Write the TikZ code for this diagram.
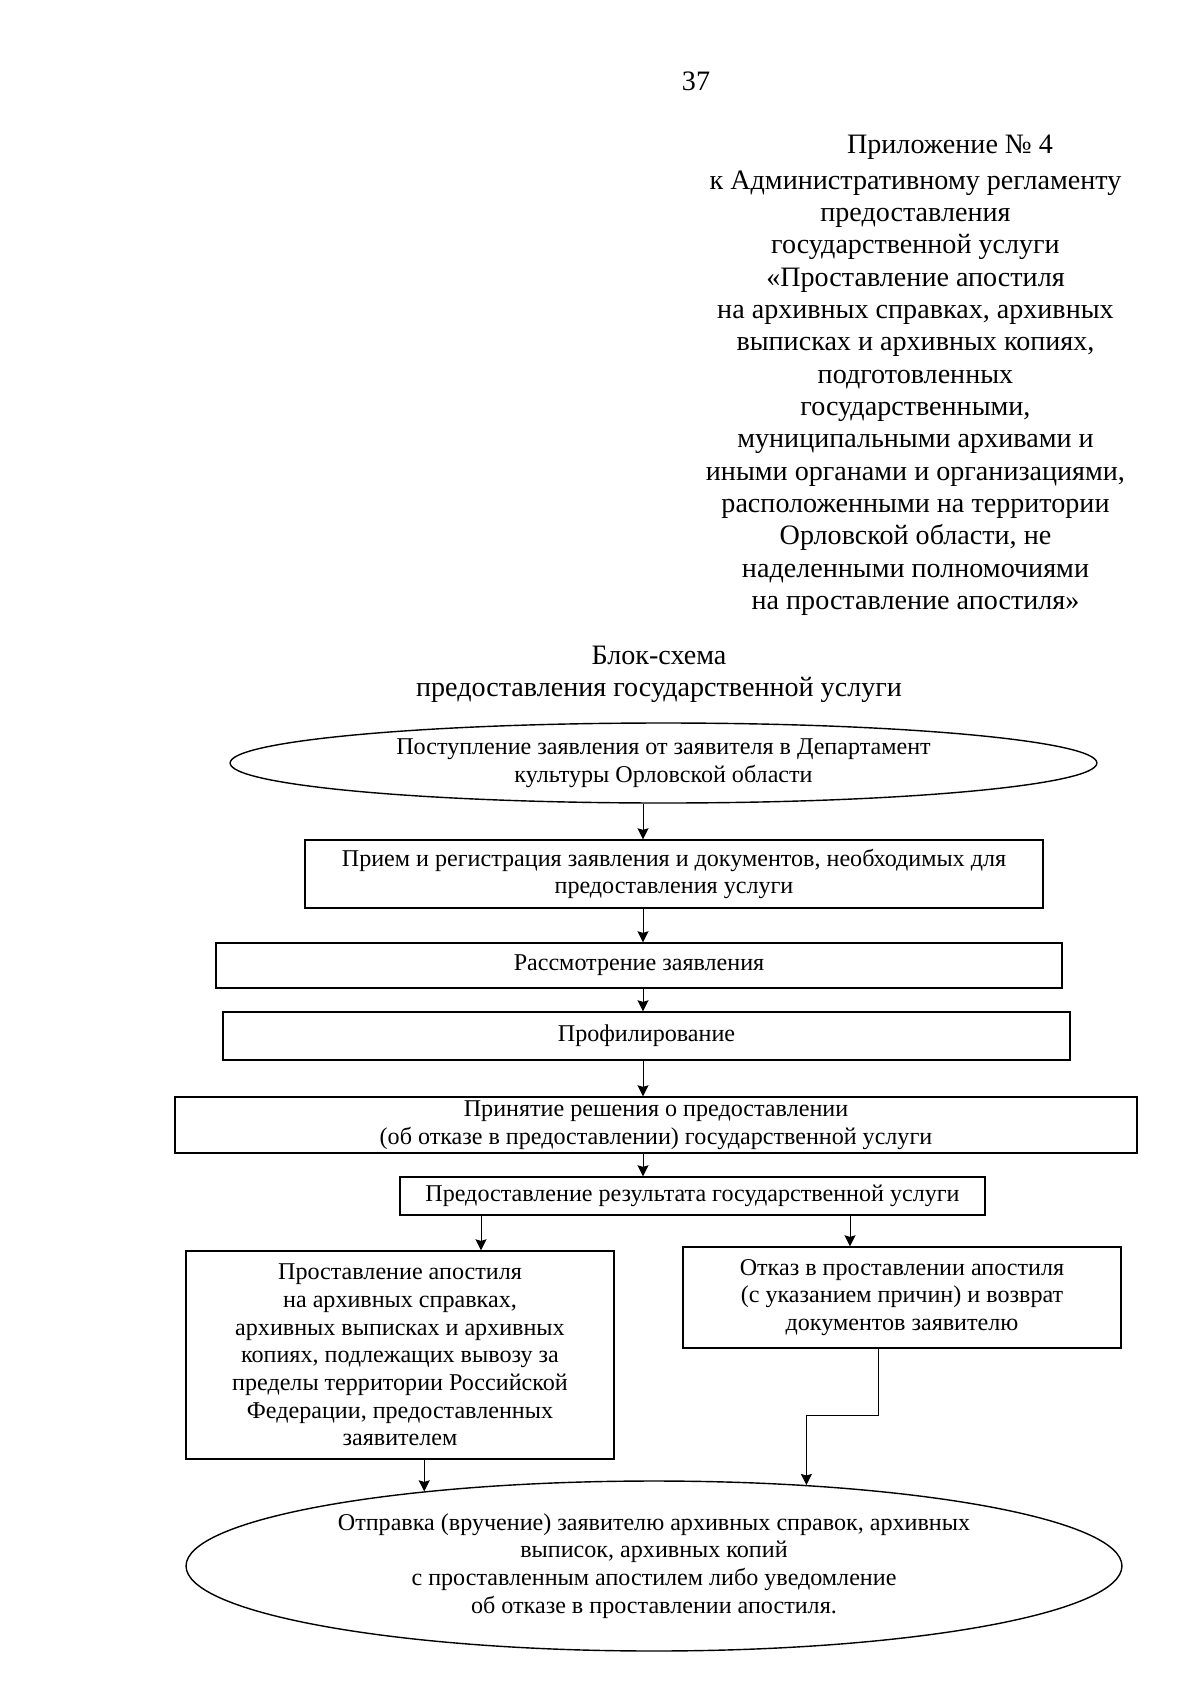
\documentclass[tikz,border=0pt]{standalone}
\usepackage{fontspec}
\setmainfont{Liberation Serif}
\usetikzlibrary{shapes.geometric, arrows.meta}

\begin{document}
\begin{tikzpicture}[x=0.0175cm, y=-0.0175cm, >={Stealth[length=5.5pt, width=5.5pt, inset=0.8pt]}, line width=0.7pt,
  every box/.style={draw, rectangle, inner sep=0pt, align=center, font=\fontsize{12}{13.8}\selectfont},
  every oval/.style={draw, ellipse, inner sep=0pt, align=center, font=\fontsize{12}{13.8}\selectfont},
  every head/.style={align=center, inner sep=0pt, font=\fontsize{14}{16.1}\selectfont},
  every link/.style={->, line width=0.5pt}]

\useasboundingbox (0,0) rectangle (1200,1697);

% Шапка страницы
\node [every head] (page-num) at (696,81) {37};
\node [every head] (appx-title) at (950,147) {Приложение № 4};
\node [every head] (appx-body) at (915.5,393) {к Административному регламенту\\
  предоставления\\
  государственной услуги\\
  «Проставление апостиля\\
  на архивных справках, архивных\\
  выписках и архивных копиях,\\
  подготовленных\\
  государственными,\\
  муниципальными архивами и\\
  иными органами и организациями,\\
  расположенными на территории\\
  Орловской области, не\\
  наделенными полномочиями\\
  на проставление апостиля»};
\node [every head] (scheme-title) at (659,674) {Блок-схема\\предоставления государственной услуги};

% Блоки схемы
\node [every oval, minimum width=15.17cm, minimum height=1.4cm] (start) at (663.5,763)
  {Поступление заявления от заявителя в Департамент\\культуры Орловской области};
\node [every box, minimum width=12.915cm, minimum height=1.19cm] (step-1) at (674,874)
  {Прием и регистрация заявления и документов, необходимых для\\предоставления услуги};
\node [every box, minimum width=14.805cm, minimum height=0.7875cm] (step-2) at (639,965.5)
  {Рассмотрение заявления};
\node [every box, minimum width=14.82cm, minimum height=0.84cm] (step-3) at (646.5,1036)
  {Профилирование};
\node [every box, minimum width=16.835cm, minimum height=0.98cm] (step-4) at (656,1125)
  {Принятие решения о предоставлении\\(об отказе в предоставлении) государственной услуги};
\node [every box, minimum width=10.24cm, minimum height=0.665cm] (step-5) at (692.5,1196)
  {Предоставление результата государственной услуги};
\node [every box, minimum width=7.49cm, minimum height=3.64cm] (res-yes) at (400,1355)
  {Проставление апостиля\\на архивных справках,\\архивных выписках и архивных\\копиях, подлежащих вывозу за\\пределы территории Российской\\Федерации, предоставленных\\заявителем};
\node [every box, minimum width=7.665cm, minimum height=1.7675cm] (res-no) at (902,1297.5)
  {Отказ в проставлении апостиля\\(с указанием причин) и возврат\\документов заявителю};
\node [every oval, minimum width=16.38cm, minimum height=2.975cm] (finish) at (654,1566)
  {Отправка (вручение) заявителю архивных справок, архивных\\выписок, архивных копий\\с проставленным апостилем либо уведомление\\об отказе в проставлении апостиля.};

% Стрелки
\coordinate (axis) at (643,0);
\coordinate (col-yes) at (481,0);
\coordinate (col-no) at (850,0);
\coordinate (turn) at (878,1415);

\foreach \i/\j in {start/step-1, step-1/step-2, step-2/step-3, step-3/step-4, step-4/step-5}
  \draw [every link] (\i.south -| axis) -- (\j.north -| axis);

\draw [every link] (step-5.south -| col-yes) -- (res-yes.north -| col-yes);
\draw [every link] (step-5.south -| col-no) -- (res-no.north -| col-no);
\draw [every link] (res-yes.south -| finish.162) -- (finish.162);
\draw [every link] (res-no.south -| turn) -- (turn) -| (finish.28);

\end{tikzpicture}
\end{document}
